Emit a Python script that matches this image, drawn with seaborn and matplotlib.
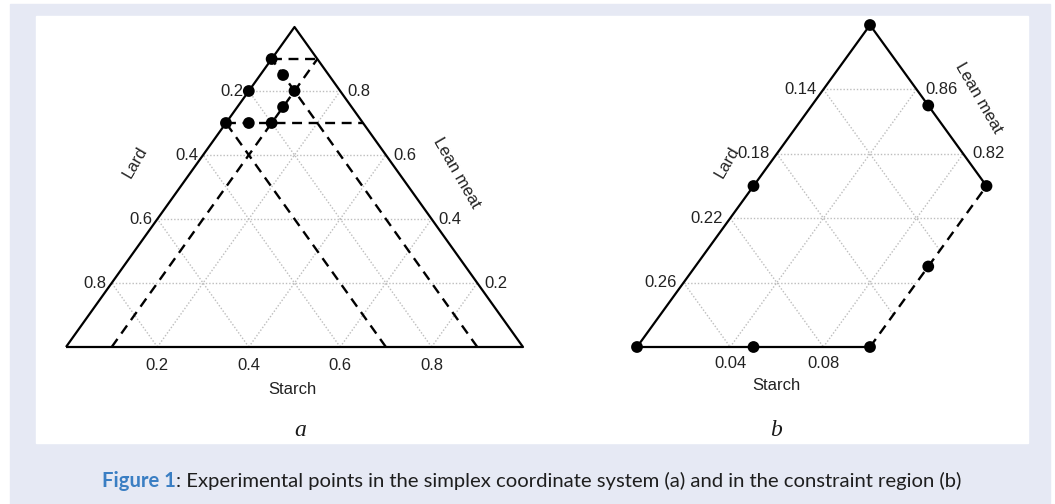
import numpy as np
import pandas as pd
import matplotlib
matplotlib.use("Agg")
import matplotlib.pyplot as plt
import seaborn as sns
from matplotlib.patches import Rectangle, Polygon

# design points (mixture proportions)
lean_pts = [0.90, 0.85, 0.80, 0.75, 0.70, 0.70, 0.70, 0.80]
lard_pts = [0.10, 0.10, 0.10, 0.15, 0.20, 0.25, 0.30, 0.20]
starch_pts = [0.00, 0.05, 0.10, 0.10, 0.10, 0.05, 0.00, 0.00]

# constraints
starch_max = 0.1
lard_range = [0.1, 0.3]
lean_range = [0.7, 0.9]

# ticks / grid
ticks_a = [0.2, 0.4, 0.6, 0.8]
lard_ticks_b = [0.14, 0.18, 0.22, 0.26]
lean_ticks_b = [0.86, 0.82]
starch_ticks_b = [0.04, 0.08]
grid_lean_b = [0.74, 0.78, 0.82, 0.86]
grid_starch_b = [0.04, 0.08]
grid_lard_b = [0.14, 0.18, 0.22, 0.26]

W, H = 1055, 504
PT = 0.72  # points per pixel at dpi 100
TXT = "#222222"
GRID = dict(color="#bdbdbd", lw=1.0, ls=(0, (1, 1.4)), zorder=1)

sns.set_theme(style="white")
plt.rcParams["font.family"] = ["Liberation Sans", "DejaVu Sans"]


def to_xy(starch, lean):
    starch = np.asarray(starch, dtype=float)
    lean = np.asarray(lean, dtype=float)
    return starch + 0.5 * lean, lean


def make_axes(fig, box, origin, ref, scale):
    l, t, r, b = box
    ox, oy = origin
    x0, y0 = ref
    sx, sy = scale
    ax = fig.add_axes([l / W, 1 - b / H, (r - l) / W, (b - t) / H], zorder=2)
    ax.set_xlim(x0 + (l - ox) / sx, x0 + (r - ox) / sx)
    ax.set_ylim(y0 - (b - oy) / sy, y0 - (t - oy) / sy)
    ax.axis("off")
    return ax


def seg(ax, s, l, **kw):
    x, y = to_xy(s, l)
    return ax.plot(x, y, solid_capstyle="butt", dash_capstyle="butt", **kw)[0]


def label(ax, txt, s, l, dx, dy, **kw):
    x, y = to_xy(s, l)
    kw.setdefault("fontsize", 12)
    kw.setdefault("color", TXT)
    ax.annotate(txt, xy=(float(x), float(y)), xytext=(dx * PT, dy * PT),
                textcoords="offset points", annotation_clip=False, **kw)


def points(ax):
    x, y = to_xy(starch_pts, lean_pts)
    df = pd.DataFrame({"x": x, "y": y, "lard": lard_pts})
    sns.scatterplot(data=df, x="x", y="y", s=72, color="black",
                    edgecolor="none", ax=ax, zorder=6, clip_on=False)


fig = plt.figure(figsize=(W / 100, H / 100), dpi=100, facecolor="white")
fig.patches.append(Rectangle((10 / W, 0), 1040 / W, 500 / H, transform=fig.transFigure,
                             color="#e6e9f4", zorder=-2))
fig.patches.append(Rectangle((36 / W, 1 - 443 / H), 992 / W, 427 / H, transform=fig.transFigure,
                             color="white", zorder=-1))

# ---------------- panel a: full simplex ----------------
axa = make_axes(fig, (20, 11, 575, 411), (66, 347), (0, 0), (457, 320))

for v in ticks_a:
    seg(axa, [0, 1 - v], [v, v], **GRID)            # lean = v
    seg(axa, [v, v], [0, 1 - v], **GRID)            # starch = v
    seg(axa, [1 - v, 0], [0, 1 - v], **GRID)        # lard = v

seg(axa, [0, 1, 0, 0], [0, 0, 1, 0], color="black", lw=1.6, zorder=3)

dash = dict(color="black", lw=1.7, ls=(0, (4.2, 2.8)), zorder=4)
for v in lean_range:
    seg(axa, [0, 1 - v], [v, v], **dash)
for v in lard_range:
    seg(axa, [1 - v, 0], [0, 1 - v], **dash)
seg(axa, [starch_max, starch_max], [0, 1 - starch_max], **dash)

points(axa)

for v in ticks_a:
    label(axa, f"{v:g}", 0, 1 - v, -5, 0, ha="right", va="center")
    label(axa, f"{v:g}", 1 - v, v, 7, 0, ha="left", va="center")
    label(axa, f"{v:g}", v, 0, 0, -19, ha="center", va="center")

label(axa, "Lard", 0, 0.578, -63, 0, ha="center", va="center", rotation=60)
label(axa, "Lean meat", 0.456, 0.544, 58, 0, ha="center", va="center", rotation=-60)
label(axa, "Starch", 0.495, 0, 0, -42, ha="center", va="center")

# ---------------- panel b: constraint region ----------------
axb = make_axes(fig, (590, 11, 1028, 411), (637, 347), (0.35, 0.7), (2330, 1610))

rx, ry = to_xy([0, starch_max, starch_max, 0],
               [lean_range[0], lean_range[0], 1 - lard_range[0] - starch_max, lean_range[1]])
region = Polygon(np.column_stack([rx, ry]), closed=True, transform=axb.transData)

lo = lean_range[0]
for v in grid_lean_b:
    seg(axb, [0, 1 - v], [v, v], **GRID).set_clip_path(region)
for v in grid_starch_b:
    seg(axb, [v, v], [lo, 1 - v], **GRID).set_clip_path(region)
for v in grid_lard_b:
    seg(axb, [0, 1 - v - lo], [1 - v, lo], **GRID).set_clip_path(region)

top_l = 1 - lard_range[0]
seg(axb, [0, 0], [lo, top_l], color="black", lw=1.6, zorder=3)
seg(axb, [0, starch_max], [lo, lo], color="black", lw=1.6, zorder=3)
seg(axb, [0, starch_max], [top_l, 1 - lard_range[0] - starch_max], color="black", lw=1.6, zorder=3)
seg(axb, [starch_max, starch_max], [lo, 1 - lard_range[0] - starch_max], **dash)

points(axb)

for v in lard_ticks_b:
    label(axb, f"{v:g}", 0, 1 - v, -7, 0, ha="right", va="center")
for v in lean_ticks_b:
    label(axb, f"{v:g}", 1 - v - lard_range[0], v, 9, 0, ha="left", va="center")
for v in starch_ticks_b:
    label(axb, f"{v:g}", v, lo, 0, -17, ha="center", va="center")

label(axb, "Lard", 0, 0.815, -44, 0, ha="center", va="center", rotation=60)
label(axb, "Lean meat", 0.045, 0.855, 56, 0, ha="center", va="center", rotation=-60)
label(axb, "Starch", 0.06, lo, 0, -39, ha="center", va="center")

# panel letters
for txt, px in [("a", 300), ("b", 776)]:
    fig.text(px / W, 1 - 430 / H, txt, ha="center", va="center", fontsize=17,
             style="italic", family=["Liberation Serif", "DejaVu Serif"], color="#1a1a1a")

# caption
cap_y = 1 - 481 / H
rend = fig.canvas.get_renderer()
t1 = fig.text(0, cap_y, "Figure 1", ha="left", va="center", fontsize=14.6,
              fontweight="bold", color="#3a7ec3", family=["Lato", "DejaVu Sans"])
t2 = fig.text(0, cap_y, ": Experimental points in the simplex coordinate system (a) and in the constraint region (b)",
              ha="left", va="center", fontsize=14.6, color="#1e1e1e", family=["Lato", "DejaVu Sans"])
w1 = t1.get_window_extent(rend).width
w2 = t2.get_window_extent(rend).width
start = 532 - (w1 + w2) / 2
t1.set_x(start / W)
t2.set_x((start + w1) / W)

fig.savefig("out.png", dpi=100, facecolor="white")
